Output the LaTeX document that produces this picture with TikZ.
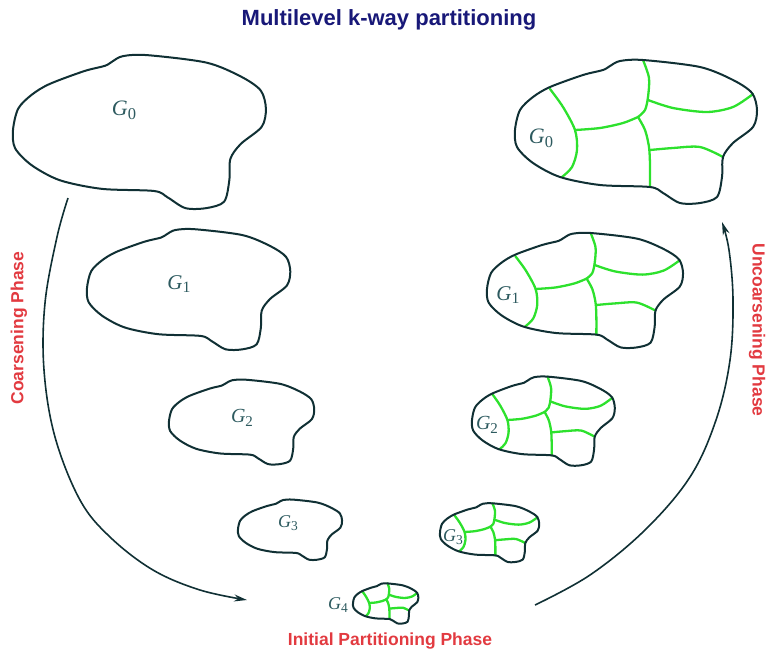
\documentclass[tikz,border=0pt]{standalone}
\usepackage{fontspec}
\setmainfont{Liberation Serif}
\newfontfamily\headfont{Liberation Sans}
\usetikzlibrary{arrows.meta}
\definecolor{lineC}{RGB}{16,48,52}
\definecolor{partC}{RGB}{45,225,45}
\definecolor{titleC}{RGB}{24,24,120}
\definecolor{phaseC}{RGB}{226,58,64}
\definecolor{labC}{RGB}{45,90,95}
\newcommand\gsub[1]{\textit{G}\raisebox{-0.4ex}{\scalebox{0.75}{#1}}}
\newcommand\blobshape{plot[smooth cycle, tension=0.5] coordinates {(0,0) (5,-20) (18,-33) (35,-43) (68,-55) (88,-60) (95,-64) (105,-69) (128,-70) (185,-63) (218,-50) (237,-37) (242,-20) (238,-3) (218,13) (208,27) (207,47) (202,67) (185,73) (165,73) (148,63) (135,57) (85,55) (45,47) (18,33) (2,17)}}
\begin{document}
\begin{tikzpicture}[x=1pt,y=-1pt,
  outline/.style={draw=lineC, line width=2pt, line join=round},
  part/.style={draw=partC, line width=2.3pt, line cap=round, line join=round},
  glabel/.style={inner sep=0pt, text=labC, font=\fontsize{#1}{#1}\selectfont},
  phase/.style={text=phaseC, font=\headfont\bfseries\fontsize{17.5}{17.5}\selectfont, inner sep=0pt},
  flow/.style={draw=lineC, line width=1.6pt, -{Stealth[length=13pt,width=7pt]}},
  blob/.pic={\path[outline] \blobshape;},
  parted/.pic={
    \path[part] plot[smooth, tension=.5] coordinates {(128,-70) (134,-52) (133,-33) (130,-20) (123,-13)};
    \path[part] plot[smooth, tension=.5] coordinates {(123,-13) (130,0) (134,17) (135,35) (135,57)};
    \path[part] plot[smooth, tension=.5] coordinates {(35,-41) (48,-23) (60,0) (62,20) (57,37) (47,47)};
    \path[part] plot[smooth, tension=.5] coordinates {(60,0) (85,-2) (108,-7) (123,-13)};
    \path[part] plot[smooth, tension=.5] coordinates {(133,-30) (158,-22) (192,-18) (218,-23) (238,-36)};
    \path[part] plot[smooth, tension=.5] coordinates {(135,20) (158,18) (185,17) (208,27)};
    \path[outline] \blobshape;}
]
\useasboundingbox (0,0) rectangle (767,659);

% title
\node[text=titleC, font=\headfont\bfseries\fontsize{22}{22}\selectfont, inner sep=0pt, anchor=base] (title) at (389,25) {Multilevel k-way partitioning};

% coarsening column (left)
\pic[xscale=1.045, yscale=1.07] (g0l) at (13,130) {blob};
\pic[xscale=0.84, yscale=0.84] (g1l) at (87,288) {blob};
\pic[xscale=0.60, yscale=0.59] (g2l) at (169,421) {blob};
\pic[xscale=0.43, yscale=0.42] (g3l) at (238,529) {blob};

% partitioned (right) column
\pic (g0r) at (515,130) {parted};
\pic[xscale=0.81, yscale=0.80] (g1r) at (487,289) {parted};
\pic[xscale=0.59, yscale=0.62] (g2r) at (472,420) {parted};
\pic[xscale=0.41, yscale=0.41] (g3r) at (440,532) {parted};
\pic[xscale=0.27, yscale=0.28] (g4) at (353,603) {parted};

% labels
\node[glabel=22] (lg0l) at (124,110) {\gsub{0}};
\node[glabel=22] (lg0r) at (541,138) {\gsub{0}};
\node[glabel=21] (lg1l) at (179,284) {\gsub{1}};
\node[glabel=21] (lg1r) at (508,295) {\gsub{1}};
\node[glabel=20] (lg2l) at (242,418) {\gsub{2}};
\node[glabel=20] (lg2r) at (487,425) {\gsub{2}};
\node[glabel=18] (lg3l) at (288,523) {\gsub{3}};
\node[glabel=18] (lg3r) at (453,537) {\gsub{3}};
\node[glabel=18] (lg4) at (338,605) {\gsub{4}};

% phase labels
\node[phase, rotate=90] (coarse) at (19,328) {Coarsening Phase};
\node[phase, rotate=-90] (uncoarse) at (757,330) {Uncoarsening Phase};
\node[phase] (init) at (390,641) {Initial Partitioning Phase};

% flow arrows
\coordinate (cs) at (68,198);
\coordinate (ce) at (247,600);
\coordinate (us) at (535,605);
\coordinate (ue) at (722,222);
\draw[flow] plot[smooth, tension=0.6] coordinates {(cs) (57,237) (45,303) (44,370) (55,437) (80,500) (110,537) (153,570) (200,590) (ce)};
\draw[flow] plot[smooth, tension=0.6] coordinates {(us) (590,575) (645,530) (690,477) (716,420) (730,360) (733,300) (729,250) (ue)};
\end{tikzpicture}
\end{document}
